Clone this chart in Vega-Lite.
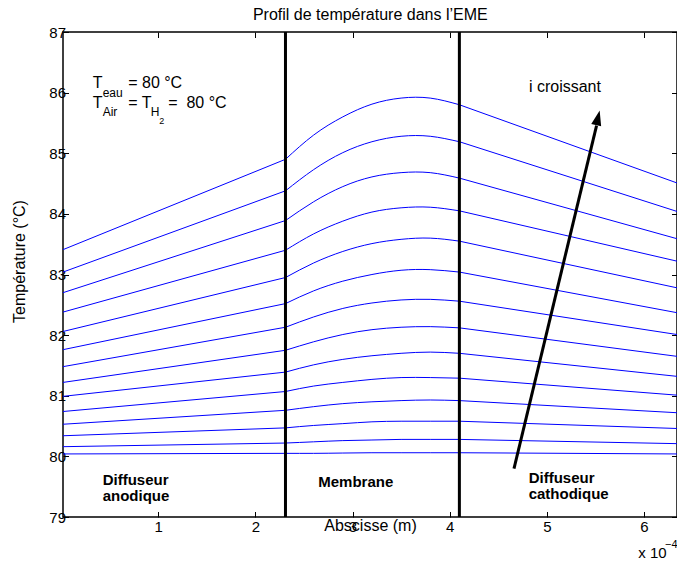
{
  "$schema": "https://vega.github.io/schema/vega-lite/v6.json",
  "width": 614,
  "height": 485,
  "autosize": {"type": "none"},
  "padding": {"left": 63, "top": 32, "right": 0, "bottom": 46},
  "background": "white",
  "config": {
    "font": "Liberation Sans",
    "view": {"stroke": "#000", "strokeWidth": 1.5},
    "axis": {
      "domain": false, "grid": false, "tickColor": "#000", "tickWidth": 1, "tickSize": -5.5,
      "labelColor": "#000", "labelFont": "Liberation Sans", "labelFontSize": 15,
      "titleColor": "#000", "titleFont": "Liberation Sans", "titleFontSize": 16, "titleFontWeight": "normal",
      "labelFlush": false, "labelOverlap": false
    }
  },
  "datasets": {
    "curves": [
      {"c":1,"s":"a","x":0.02,"y":83.41},{"c":1,"s":"a","x":2.31,"y":84.90},
      {"c":1,"s":"m","x":2.31,"y":84.90},{"c":1,"s":"m","x":2.6,"y":85.30},{"c":1,"s":"m","x":2.9,"y":85.60},{"c":1,"s":"m","x":3.2,"y":85.81},{"c":1,"s":"m","x":3.5,"y":85.91},{"c":1,"s":"m","x":3.8,"y":85.91},{"c":1,"s":"m","x":4.10,"y":85.80},
      {"c":1,"s":"k","x":4.10,"y":85.80},{"c":1,"s":"k","x":6.34,"y":84.51},

      {"c":2,"s":"a","x":0.02,"y":83.04},{"c":2,"s":"a","x":2.31,"y":84.38},
      {"c":2,"s":"m","x":2.31,"y":84.38},{"c":2,"s":"m","x":2.6,"y":84.73},{"c":2,"s":"m","x":2.9,"y":85.01},{"c":2,"s":"m","x":3.2,"y":85.19},{"c":2,"s":"m","x":3.5,"y":85.28},{"c":2,"s":"m","x":3.8,"y":85.28},{"c":2,"s":"m","x":4.10,"y":85.19},
      {"c":2,"s":"k","x":4.10,"y":85.19},{"c":2,"s":"k","x":6.34,"y":84.04},

      {"c":3,"s":"a","x":0.02,"y":82.70},{"c":3,"s":"a","x":2.31,"y":83.89},
      {"c":3,"s":"m","x":2.31,"y":83.89},{"c":3,"s":"m","x":2.6,"y":84.20},{"c":3,"s":"m","x":2.9,"y":84.45},{"c":3,"s":"m","x":3.2,"y":84.61},{"c":3,"s":"m","x":3.5,"y":84.68},{"c":3,"s":"m","x":3.8,"y":84.68},{"c":3,"s":"m","x":4.10,"y":84.59},
      {"c":3,"s":"k","x":4.10,"y":84.59},{"c":3,"s":"k","x":6.34,"y":83.59},

      {"c":4,"s":"a","x":0.02,"y":82.38},{"c":4,"s":"a","x":2.31,"y":83.40},
      {"c":4,"s":"m","x":2.31,"y":83.40},{"c":4,"s":"m","x":2.6,"y":83.67},{"c":4,"s":"m","x":2.9,"y":83.88},{"c":4,"s":"m","x":3.2,"y":84.03},{"c":4,"s":"m","x":3.5,"y":84.10},{"c":4,"s":"m","x":3.8,"y":84.11},{"c":4,"s":"m","x":4.10,"y":84.05},
      {"c":4,"s":"k","x":4.10,"y":84.05},{"c":4,"s":"k","x":6.34,"y":83.22},

      {"c":5,"s":"a","x":0.02,"y":82.06},{"c":5,"s":"a","x":2.31,"y":82.95},
      {"c":5,"s":"m","x":2.31,"y":82.95},{"c":5,"s":"m","x":2.6,"y":83.19},{"c":5,"s":"m","x":2.9,"y":83.38},{"c":5,"s":"m","x":3.2,"y":83.51},{"c":5,"s":"m","x":3.5,"y":83.58},{"c":5,"s":"m","x":3.8,"y":83.60},{"c":5,"s":"m","x":4.10,"y":83.55},
      {"c":5,"s":"k","x":4.10,"y":83.55},{"c":5,"s":"k","x":6.34,"y":82.78},

      {"c":6,"s":"a","x":0.02,"y":81.76},{"c":6,"s":"a","x":2.31,"y":82.52},
      {"c":6,"s":"m","x":2.31,"y":82.52},{"c":6,"s":"m","x":2.6,"y":82.73},{"c":6,"s":"m","x":2.9,"y":82.89},{"c":6,"s":"m","x":3.2,"y":83.00},{"c":6,"s":"m","x":3.5,"y":83.07},{"c":6,"s":"m","x":3.8,"y":83.08},{"c":6,"s":"m","x":4.10,"y":83.04},
      {"c":6,"s":"k","x":4.10,"y":83.04},{"c":6,"s":"k","x":6.34,"y":82.37},

      {"c":7,"s":"a","x":0.02,"y":81.48},{"c":7,"s":"a","x":2.31,"y":82.13},
      {"c":7,"s":"m","x":2.31,"y":82.13},{"c":7,"s":"m","x":2.6,"y":82.30},{"c":7,"s":"m","x":2.9,"y":82.44},{"c":7,"s":"m","x":3.2,"y":82.53},{"c":7,"s":"m","x":3.5,"y":82.58},{"c":7,"s":"m","x":3.8,"y":82.59},{"c":7,"s":"m","x":4.10,"y":82.56},
      {"c":7,"s":"k","x":4.10,"y":82.56},{"c":7,"s":"k","x":6.34,"y":82.01},

      {"c":8,"s":"a","x":0.02,"y":81.22},{"c":8,"s":"a","x":2.31,"y":81.75},
      {"c":8,"s":"m","x":2.31,"y":81.75},{"c":8,"s":"m","x":2.6,"y":81.89},{"c":8,"s":"m","x":2.9,"y":82.01},{"c":8,"s":"m","x":3.2,"y":82.09},{"c":8,"s":"m","x":3.5,"y":82.13},{"c":8,"s":"m","x":3.8,"y":82.14},{"c":8,"s":"m","x":4.10,"y":82.12},
      {"c":8,"s":"k","x":4.10,"y":82.12},{"c":8,"s":"k","x":6.34,"y":81.65},

      {"c":9,"s":"a","x":0.02,"y":80.99},{"c":9,"s":"a","x":2.31,"y":81.39},
      {"c":9,"s":"m","x":2.31,"y":81.39},{"c":9,"s":"m","x":2.6,"y":81.51},{"c":9,"s":"m","x":2.9,"y":81.60},{"c":9,"s":"m","x":3.2,"y":81.66},{"c":9,"s":"m","x":3.5,"y":81.70},{"c":9,"s":"m","x":3.8,"y":81.72},{"c":9,"s":"m","x":4.10,"y":81.70},
      {"c":9,"s":"k","x":4.10,"y":81.70},{"c":9,"s":"k","x":6.34,"y":81.32},

      {"c":10,"s":"a","x":0.02,"y":80.74},{"c":10,"s":"a","x":2.31,"y":81.07},
      {"c":10,"s":"m","x":2.31,"y":81.07},{"c":10,"s":"m","x":2.6,"y":81.16},{"c":10,"s":"m","x":2.9,"y":81.22},{"c":10,"s":"m","x":3.2,"y":81.27},{"c":10,"s":"m","x":3.5,"y":81.30},{"c":10,"s":"m","x":3.8,"y":81.30},{"c":10,"s":"m","x":4.10,"y":81.29},
      {"c":10,"s":"k","x":4.10,"y":81.29},{"c":10,"s":"k","x":6.34,"y":81.01},

      {"c":11,"s":"a","x":0.02,"y":80.53},{"c":11,"s":"a","x":2.31,"y":80.76},
      {"c":11,"s":"m","x":2.31,"y":80.76},{"c":11,"s":"m","x":2.6,"y":80.82},{"c":11,"s":"m","x":2.9,"y":80.87},{"c":11,"s":"m","x":3.2,"y":80.90},{"c":11,"s":"m","x":3.5,"y":80.92},{"c":11,"s":"m","x":3.8,"y":80.93},{"c":11,"s":"m","x":4.10,"y":80.92},
      {"c":11,"s":"k","x":4.10,"y":80.92},{"c":11,"s":"k","x":6.34,"y":80.72},

      {"c":12,"s":"a","x":0.02,"y":80.34},{"c":12,"s":"a","x":2.31,"y":80.47},
      {"c":12,"s":"m","x":2.31,"y":80.47},{"c":12,"s":"m","x":2.6,"y":80.51},{"c":12,"s":"m","x":2.9,"y":80.54},{"c":12,"s":"m","x":3.2,"y":80.57},{"c":12,"s":"m","x":3.5,"y":80.58},{"c":12,"s":"m","x":3.8,"y":80.58},{"c":12,"s":"m","x":4.10,"y":80.58},
      {"c":12,"s":"k","x":4.10,"y":80.58},{"c":12,"s":"k","x":6.34,"y":80.46},

      {"c":13,"s":"a","x":0.02,"y":80.16},{"c":13,"s":"a","x":2.31,"y":80.22},
      {"c":13,"s":"m","x":2.31,"y":80.22},{"c":13,"s":"m","x":2.6,"y":80.24},{"c":13,"s":"m","x":2.9,"y":80.26},{"c":13,"s":"m","x":3.2,"y":80.27},{"c":13,"s":"m","x":3.5,"y":80.28},{"c":13,"s":"m","x":3.8,"y":80.28},{"c":13,"s":"m","x":4.10,"y":80.28},
      {"c":13,"s":"k","x":4.10,"y":80.28},{"c":13,"s":"k","x":6.34,"y":80.21},

      {"c":14,"s":"a","x":0.02,"y":80.04},{"c":14,"s":"a","x":2.31,"y":80.05},
      {"c":14,"s":"m","x":2.31,"y":80.05},{"c":14,"s":"m","x":2.6,"y":80.05},{"c":14,"s":"m","x":2.9,"y":80.055},{"c":14,"s":"m","x":3.2,"y":80.06},{"c":14,"s":"m","x":3.5,"y":80.06},{"c":14,"s":"m","x":3.8,"y":80.06},{"c":14,"s":"m","x":4.10,"y":80.06},
      {"c":14,"s":"k","x":4.10,"y":80.06},{"c":14,"s":"k","x":6.34,"y":80.04}
    ],
    "walls": [{"x": 2.31, "y": 79, "y2": 87}, {"x": 4.10, "y": 79, "y2": 87}],
    "arrow": [{"x": 4.662, "y": 79.797, "x2": 5.512, "y2": 85.457}],
    "arrowhead": [{"x": 5.544, "y": 85.705}],
    "heading": [{"x": 3.183, "y": 87.206, "text": "Profil de température dans l’EME"}],
    "notes": [
      {"x": 0.325, "y": 86.079, "text": "T"},
      {"x": 0.691, "y": 86.079, "text": "= 80 °C"},
      {"x": 0.325, "y": 85.749, "text": "T"},
      {"x": 0.691, "y": 85.749, "text": "= T"},
      {"x": 1.103, "y": 85.749, "text": "= \u00a080 °C"},
      {"x": 4.816, "y": 86.007, "text": "i croissant"}
    ],
    "subs": [
      {"x": 0.428, "y": 85.931, "text": "eau"},
      {"x": 0.428, "y": 85.622, "text": "Air"},
      {"x": 0.922, "y": 85.611, "text": "H"}
    ],
    "subsubs": [{"x": 1.010, "y": 85.49, "text": "2"}],
    "regions": [
      {"x": 0.428, "y": 79.533, "text": "Diffuseur"},
      {"x": 0.428, "y": 79.27, "text": "anodique"},
      {"x": 2.647, "y": 79.49, "text": "Membrane"},
      {"x": 4.813, "y": 79.565, "text": "Diffuseur"},
      {"x": 4.813, "y": 79.29, "text": "cathodique"}
    ],
    "multiplier": [{"x": 5.941, "y": 78.33, "text": "x 10"}],
    "exponent": [{"x": 6.216, "y": 78.49, "text": "−4"}]
  },
  "encoding": {
    "x": {"field": "x", "type": "quantitative", "scale": {"domain": [0.02, 6.34], "nice": false, "zero": false}, "axis": null},
    "y": {"field": "y", "type": "quantitative", "scale": {"domain": [79, 87], "nice": false, "zero": false}, "axis": null}
  },
  "resolve": {"axis": {"x": "independent", "y": "independent"}},
  "layer": [
    {
      "data": {"name": "curves"},
      "mark": {"type": "line", "color": "#0000ff", "strokeWidth": 1, "interpolate": "natural"},
      "encoding": {
        "x": {"field": "x", "type": "quantitative", "scale": {"domain": [0.02, 6.34], "nice": false, "zero": false},
              "axis": {"orient": "bottom", "values": [1, 2, 3, 4, 5, 6], "format": "d", "title": "Abscisse (m)", "labelPadding": 8, "titleY": 13, "titleBaseline": "alphabetic"}},
        "y": {"field": "y", "type": "quantitative", "scale": {"domain": [79, 87], "nice": false, "zero": false},
              "axis": {"orient": "left", "values": [79, 80, 81, 82, 83, 84, 85, 86, 87], "format": "d", "title": "Température (°C)", "labelPadding": 3, "titleX": -39, "titleY": 229, "titleBaseline": "alphabetic", "titleAngle": -90}},
        "detail": [{"field": "c"}, {"field": "s"}]
      }
    },
    {
      "data": {"name": "walls"},
      "mark": {"type": "rule", "color": "#000", "strokeWidth": 3},
      "encoding": {
        "x": {"field": "x", "type": "quantitative", "scale": {"domain": [0.02, 6.34], "nice": false, "zero": false},
              "axis": {"orient": "top", "values": [1, 2, 3, 4, 5, 6], "labels": false, "title": null}},
        "y2": {"field": "y2"}
      }
    },
    {
      "data": {"name": "arrow"},
      "mark": {"type": "rule", "color": "#000", "strokeWidth": 3},
      "encoding": {
        "y": {"field": "y", "type": "quantitative", "scale": {"domain": [79, 87], "nice": false, "zero": false},
              "axis": {"orient": "right", "values": [79, 80, 81, 82, 83, 84, 85, 86, 87], "labels": false, "title": null}},
        "x2": {"field": "x2"},
        "y2": {"field": "y2"}
      }
    },
    {
      "data": {"name": "arrowhead"},
      "mark": {"type": "point", "shape": "M0,0 L-0.34,1 L0.34,1 Z", "size": 900, "filled": true, "color": "#000", "opacity": 1, "angle": 13.4}
    },
    {
      "data": {"name": "heading"},
      "mark": {"type": "text", "align": "center", "baseline": "alphabetic", "fontSize": 16, "color": "#000", "font": "Liberation Sans"},
      "encoding": {"text": {"field": "text"}}
    },
    {
      "data": {"name": "notes"},
      "mark": {"type": "text", "align": "left", "baseline": "alphabetic", "fontSize": 16, "color": "#000", "font": "Liberation Sans"},
      "encoding": {"text": {"field": "text"}}
    },
    {
      "data": {"name": "subs"},
      "mark": {"type": "text", "align": "left", "baseline": "alphabetic", "fontSize": 12, "color": "#000", "font": "Liberation Sans"},
      "encoding": {"text": {"field": "text"}}
    },
    {
      "data": {"name": "subsubs"},
      "mark": {"type": "text", "align": "left", "baseline": "alphabetic", "fontSize": 9, "color": "#000", "font": "Liberation Sans"},
      "encoding": {"text": {"field": "text"}}
    },
    {
      "data": {"name": "regions"},
      "mark": {"type": "text", "align": "left", "baseline": "alphabetic", "fontSize": 15, "fontWeight": "bold", "color": "#000", "font": "Liberation Sans"},
      "encoding": {"text": {"field": "text"}}
    },
    {
      "data": {"name": "multiplier"},
      "mark": {"type": "text", "align": "left", "baseline": "alphabetic", "fontSize": 15, "color": "#000", "font": "Liberation Sans"},
      "encoding": {"text": {"field": "text"}}
    },
    {
      "data": {"name": "exponent"},
      "mark": {"type": "text", "align": "left", "baseline": "alphabetic", "fontSize": 11, "color": "#000", "font": "Liberation Sans"},
      "encoding": {"text": {"field": "text"}}
    }
  ]
}
